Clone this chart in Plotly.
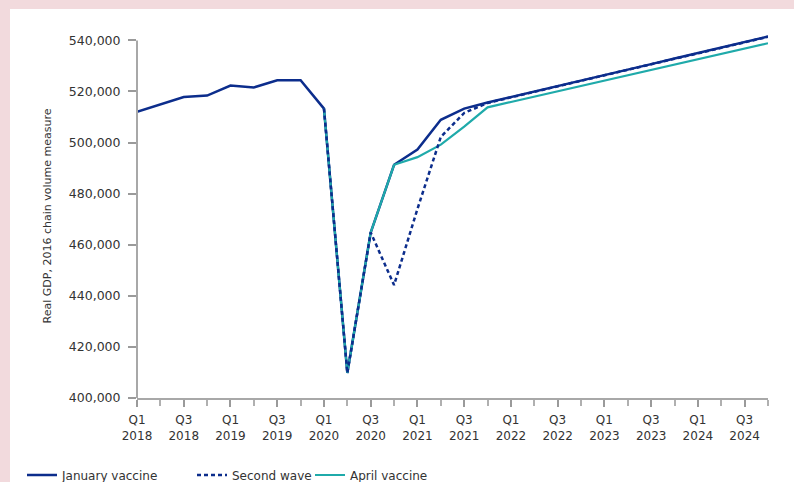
import plotly.graph_objects as go

# ---- data ----
quarters = [f"Q{q} {y}" for y in range(2018, 2025) for q in (1, 2, 3, 4)]
tick_labels = [f"Q{q}<br>{y}" for y in range(2018, 2025) for q in (1, 3)]

january_vaccine = [512000, 515000, 517800, 518400, 522300, 521600, 524400, 524400,
                   513300, 409800, 464800, 491300, 497300, 508900, 513300, 515700,
                   517800, 520000, 522100, 524300, 526400, 528600, 530700, 532900,
                   535000, 537200, 539300, 541500]
second_wave = [None, None, None, None, None, None, None, None,
               513300, 409800, 464800, 444200, 474000, 502200, 511600, 515500,
               517700, 519900, 522000, 524200, 526300, 528500, 530600, 532800,
               534900, 537100, 539200, 541400]
april_vaccine = [None, None, None, None, None, None, None, None,
                 513300, 409800, 464800, 491300, 494300, 499200, 506200, 513800,
                 515900, 518000, 520100, 522200, 524300, 526400, 528500, 530600,
                 532600, 534700, 536800, 538900]
y_ticks = [400000, 420000, 440000, 460000, 480000, 500000, 520000, 540000]

NAVY = "#0c2d8c"
TEAL = "#1faaaa"
PINK = "#f2dadd"
FONT = "DejaVu Sans"
xs = list(range(len(quarters)))

fig = go.Figure()
fig.add_trace(go.Scatter(x=xs, y=january_vaccine, mode="lines", name="January vaccine",
                         line=dict(color=NAVY, width=2.5), legend="legend",
                         customdata=quarters))
fig.add_trace(go.Scatter(x=xs, y=april_vaccine, mode="lines", name="April vaccine",
                         line=dict(color=TEAL, width=2.2), legend="legend3",
                         customdata=quarters))
fig.add_trace(go.Scatter(x=xs, y=second_wave, mode="lines", name="Second wave",
                         line=dict(color=NAVY, width=2.5, dash="4px,3px"), legend="legend2",
                         customdata=quarters))

L, R, T, B = 137, 26, 34, 84
W, H = 794, 482
pw, ph = W - L - R, H - T - B

def px_x(px):
    return (px - L) / pw

def px_y(py):
    return (H - B - py) / ph

legend_common = dict(orientation="h", yanchor="middle", xanchor="left",
                     font=dict(family=FONT, size=12, color="#333333"),
                     bgcolor="rgba(0,0,0,0)", y=px_y(475))

fig.update_layout(
    width=W, height=H,
    margin=dict(l=L, r=R, t=T, b=B, autoexpand=False),
    paper_bgcolor="white",
    plot_bgcolor="white",
    font=dict(family=FONT, size=12, color="#333333"),
    showlegend=True,
    legend=dict(x=px_x(22), **legend_common),
    legend2=dict(x=px_x(192), **legend_common),
    legend3=dict(x=px_x(310), **legend_common),
    xaxis=dict(range=[0, 27], tickmode="array",
               tickvals=list(range(0, 27, 2)), ticktext=tick_labels,
               ticks="outside", ticklen=7, tickcolor="#9a9a9a", tickwidth=1.5,
               showline=True, linecolor="#a8a8a8", linewidth=2,
               showgrid=False, zeroline=False, ticklabelstandoff=3,
               automargin=False,
               minor=dict(dtick=1, tick0=0, ticks="outside", ticklen=6,
                          tickcolor="#b0b0b0", tickwidth=1.5, showgrid=False),
               tickfont=dict(family=FONT, size=12, color="#333333")),
    yaxis=dict(range=[400000, 542500], tickmode="array", tickvals=y_ticks,
               tickformat=",d", ticks="outside", ticklen=8, tickcolor="#9a9a9a",
               tickwidth=1.5, showline=False, showgrid=False, zeroline=False,
               ticklabelstandoff=5, automargin=False,
               tickfont=dict(family=FONT, size=12.5, color="#333333"),
               title=dict(text="Real GDP, 2016 chain volume measure",
                          font=dict(family=FONT, size=11, color="#333333"),
                          standoff=14)),
    shapes=[
        dict(type="rect", xref="paper", yref="paper", layer="below",
             x0=px_x(-5), x1=px_x(10), y0=px_y(-5), y1=px_y(490),
             fillcolor=PINK, line=dict(width=0)),
        dict(type="rect", xref="paper", yref="paper", layer="below",
             x0=px_x(-5), x1=px_x(800), y0=px_y(-5), y1=px_y(9),
             fillcolor=PINK, line=dict(width=0)),
        dict(type="line", xref="paper", yref="y", x0=0, x1=0,
             y0=400000, y1=540000, line=dict(color="#a8a8a8", width=2)),
    ],
)

fig.write_html("out.html", config={"displayModeBar": False},
               post_script="document.body.style.margin='0';document.body.style.padding='0';")
